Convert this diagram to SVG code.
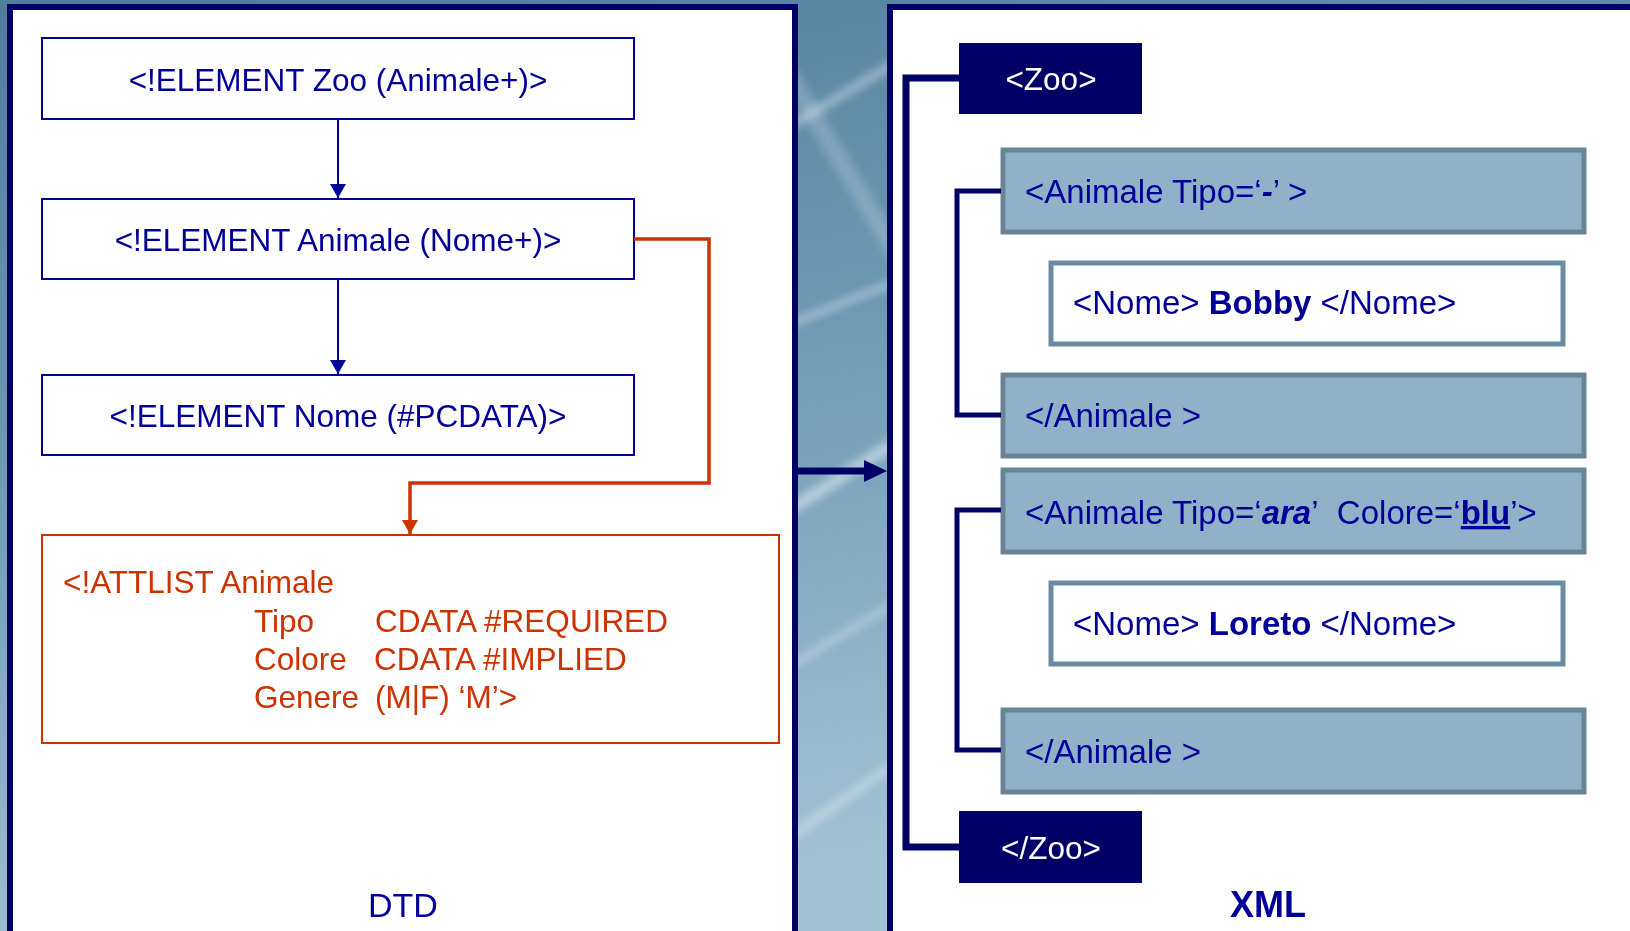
<svg xmlns="http://www.w3.org/2000/svg" width="1630" height="931" viewBox="0 0 1630 931">
  <defs>
    <linearGradient id="bg" x1="0" y1="0" x2="0.3" y2="1">
      <stop offset="0" stop-color="#4f7d9a"/>
      <stop offset="0.45" stop-color="#6d99b3"/>
      <stop offset="1" stop-color="#a3c3d4"/>
    </linearGradient>
    <filter id="soft" x="-20%" y="-20%" width="140%" height="140%">
      <feGaussianBlur stdDeviation="4"/>
    </filter>
    <marker id="arrBlue" viewBox="0 0 14 16" refX="14" refY="8" markerWidth="14" markerHeight="16" markerUnits="userSpaceOnUse" orient="auto">
      <path d="M0,0 L14,8 L0,16 Z" fill="#000099"/>
    </marker>
    <marker id="arrOrange" viewBox="0 0 14 16" refX="14" refY="8" markerWidth="14" markerHeight="16" markerUnits="userSpaceOnUse" orient="auto">
      <path d="M0,0 L14,8 L0,16 Z" fill="#cc3300"/>
    </marker>
    <style>
      .panel { fill: #ffffff; stroke: #000066; stroke-width: 6; }
      .dtdbox { fill: #ffffff; stroke: #000099; stroke-width: 2; }
      .attbox { fill: #ffffff; stroke: #cc3300; stroke-width: 2; }
      .tagbox { fill: #8fb2c8; stroke: #698594; stroke-width: 5; }
      .namebox { fill: #ffffff; stroke: #6b8ba2; stroke-width: 5; }
      .zoobox { fill: #000066; }
      text { font-family: "Liberation Sans", Arial, sans-serif; font-size: 31.5px; }
      .xml { font-size: 33px; }
      .blue { fill: #000099; }
      .orange { fill: #cc3300; }
      .white { fill: #ffffff; }
      .mid { text-anchor: middle; }
      .b { font-weight: bold; }
      .bi { font-weight: bold; font-style: italic; }
      .link-blue { stroke: #000099; stroke-width: 2; fill: none; }
      .link-orange { stroke: #cc3300; stroke-width: 3.5; fill: none; }
      .bracket { stroke: #000066; fill: none; stroke-linejoin: miter; }
    </style>
  </defs>

  <!-- backdrop with soft light streaks -->
  <rect x="0" y="0" width="1630" height="931" fill="url(#bg)"/>
  <g filter="url(#soft)" fill="none" stroke="#ffffff" stroke-linecap="round">
    <path d="M700,180 L900,60" stroke-width="10" opacity="0.35"/>
    <path d="M700,360 L900,280" stroke-width="8" opacity="0.35"/>
    <path d="M700,560 C780,520 850,470 900,440" stroke-width="12" opacity="0.45"/>
    <path d="M700,720 L900,600" stroke-width="8" opacity="0.3"/>
    <path d="M700,900 L900,760" stroke-width="10" opacity="0.3"/>
    <path d="M780,60 L900,260" stroke-width="18" opacity="0.2"/>
  </g>

  <!-- panels -->
  <rect id="dtd-panel" class="panel" x="10" y="7" width="785" height="940"/>
  <rect id="xml-panel" class="panel" x="890" y="7" width="800" height="940"/>

  <!-- DTD nodes -->
  <g id="el-zoo">
    <rect class="dtdbox" x="42" y="38" width="592" height="81"/>
    <text class="blue mid" x="338" y="91">&lt;!ELEMENT Zoo (Animale+)&gt;</text>
  </g>
  <g id="el-animale">
    <rect class="dtdbox" x="42" y="199" width="592" height="80"/>
    <text class="blue mid" x="338" y="251">&lt;!ELEMENT Animale (Nome+)&gt;</text>
  </g>
  <g id="el-nome">
    <rect class="dtdbox" x="42" y="375" width="592" height="80"/>
    <text class="blue mid" x="338" y="427">&lt;!ELEMENT Nome (#PCDATA)&gt;</text>
  </g>
  <g id="attlist">
    <rect class="attbox" x="42" y="535" width="737" height="208"/>
    <text class="orange" x="63" y="593">&lt;!ATTLIST Animale</text>
    <text class="orange" x="254" y="632">Tipo</text>
    <text class="orange" x="375" y="632">CDATA #REQUIRED</text>
    <text class="orange" x="254" y="670">Colore</text>
    <text class="orange" x="374" y="670">CDATA #IMPLIED</text>
    <text class="orange" x="254" y="708">Genere</text>
    <text class="orange" x="375" y="708">(M|F) ‘M’&gt;</text>
  </g>
  <g id="dtd-label">
    <text class="blue mid" x="403" y="917" style="font-size:34px">DTD</text>
  </g>

  <!-- XML nodes -->
  <g id="xml-zoo-open">
    <rect class="zoobox" x="959" y="43" width="183" height="71"/>
    <text class="white mid" x="1051" y="90">&lt;Zoo&gt;</text>
  </g>
  <g id="xml-animale1-open">
    <rect class="tagbox" x="1003" y="150" width="581" height="82"/>
    <text class="blue xml" x="1025" y="203">&lt;Animale Tipo=‘<tspan class="bi">-</tspan>’ &gt;</text>
  </g>
  <g id="xml-nome1">
    <rect class="namebox" x="1051" y="263" width="512" height="81"/>
    <text class="blue xml" x="1073" y="314">&lt;Nome&gt; <tspan class="b">Bobby</tspan> &lt;/Nome&gt;</text>
  </g>
  <g id="xml-animale1-close">
    <rect class="tagbox" x="1003" y="375" width="581" height="81"/>
    <text class="blue xml" x="1025" y="427">&lt;/Animale &gt;</text>
  </g>
  <g id="xml-animale2-open">
    <rect class="tagbox" x="1003" y="470" width="581" height="82"/>
    <text class="blue xml" x="1025" y="524">&lt;Animale Tipo=‘<tspan class="bi">ara</tspan>’&#160; Colore=‘<tspan class="b" text-decoration="underline">blu</tspan>’&gt;</text>
  </g>
  <g id="xml-nome2">
    <rect class="namebox" x="1051" y="583" width="512" height="81"/>
    <text class="blue xml" x="1073" y="635">&lt;Nome&gt; <tspan class="b">Loreto</tspan> &lt;/Nome&gt;</text>
  </g>
  <g id="xml-animale2-close">
    <rect class="tagbox" x="1003" y="710" width="581" height="82"/>
    <text class="blue xml" x="1025" y="763">&lt;/Animale &gt;</text>
  </g>
  <g id="xml-zoo-close">
    <rect class="zoobox" x="959" y="811" width="183" height="72"/>
    <text class="white mid" x="1051" y="859">&lt;/Zoo&gt;</text>
  </g>
  <g id="xml-label">
    <text class="blue mid b" x="1268" y="917" style="font-size:36px">XML</text>
  </g>

  <!-- connectors -->
  <g id="connectors">
    <path class="link-blue" d="M338,119 V198" marker-end="url(#arrBlue)"/>
    <path class="link-blue" d="M338,279 V374" marker-end="url(#arrBlue)"/>
    <path class="link-orange" d="M634,239 H709 V483 H410 V534" marker-end="url(#arrOrange)"/>
    <path d="M797,471 H868" stroke="#000066" stroke-width="7" fill="none"/>
    <path d="M864,460 L887,471 L864,482 Z" fill="#000066"/>
    <path class="bracket" d="M959,78 H906 V847 H959" stroke-width="7"/>
    <path class="bracket" d="M1001,191 H957 V415 H1001" stroke-width="5"/>
    <path class="bracket" d="M1001,510 H957 V750 H1001" stroke-width="5"/>
  </g>
</svg>
